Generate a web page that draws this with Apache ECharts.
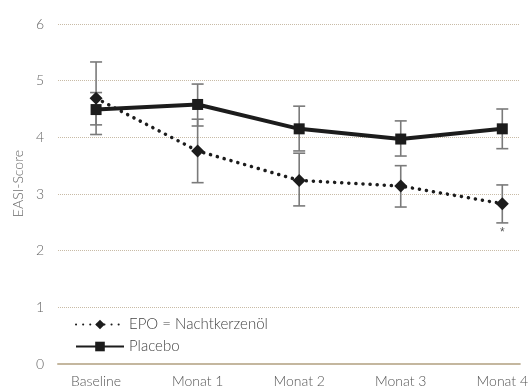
<!DOCTYPE html>
<html><head><meta charset="utf-8">
<script src="https://cdn.jsdelivr.net/npm/echarts@6/dist/echarts.min.js"></script>
<style>html,body{margin:0;padding:0;background:#fff}#c{width:531px;height:389px}</style>
</head><body><div id="c"></div>
<script>
const categories = ['Baseline','Monat 1','Monat 2','Monat 3','Monat 4'];
const epoMean = [4.69, 3.76, 3.24, 3.14, 2.83];
const epoLow  = [4.05, 3.20, 2.79, 2.77, 2.49];
const epoHigh = [5.33, 4.32, 3.72, 3.50, 3.16];
const placeboMean = [4.49, 4.58, 4.15, 3.97, 4.15];
const placeboLow  = [4.22, 4.20, 3.76, 3.67, 3.80];
const placeboHigh = [4.79, 4.94, 4.55, 4.29, 4.50];
const significance = ['', '', '', '', '*'];
const yTicks = [0,1,2,3,4,5,6];
const yTitle = 'EASI-Score';

const FONT = 'Lato';
const FW = 300;
const chart = echarts.init(document.getElementById('c'));

function errData(low, high, mark){
  return categories.map((c,i)=>[i, low[i], high[i], mark ? mark[i] : '']);
}
function errRender(params, api){
  const x = api.value(0);
  const lo = api.coord([x, api.value(1)]);
  const hi = api.coord([x, api.value(2)]);
  const w = 6;
  const st = {stroke:'#7a7a7a', lineWidth:1.6};
  const children = [
    {type:'line', shape:{x1:lo[0],y1:lo[1],x2:hi[0],y2:hi[1]}, style:st},
    {type:'line', shape:{x1:lo[0]-w,y1:lo[1],x2:lo[0]+w,y2:lo[1]}, style:st},
    {type:'line', shape:{x1:hi[0]-w,y1:hi[1],x2:hi[0]+w,y2:hi[1]}, style:st}
  ];
  const m = api.value(3);
  if (m) children.push({type:'text', style:{text:m, x:lo[0], y:lo[1]+4, align:'center', verticalAlign:'top', fill:'#555', font:'12px sans-serif'}});
  return {type:'group', children};
}

chart.setOption({
  animation:false,
  textStyle:{fontFamily:FONT, fontWeight:FW},
  grid:{left:58, right:0, top:24, bottom:25},
  graphic:[{type:'text', left:11, top:150, rotation:Math.PI/2,
    style:{text:yTitle, fill:'#666', font:FW+' 14px '+FONT}}],
  xAxis:{
    type:'value', min:-0.375, max:4.173,
    axisLine:{show:true, lineStyle:{color:'#c4b79f', width:2}},
    axisTick:{show:false},
    splitLine:{show:false},
    axisLabel:{customValues:[0,1,2,3,4], formatter:v=>categories[Math.round(v)], color:'#555', fontSize:14, fontWeight:FW, margin:10, fontFamily:FONT}
  },
  yAxis:{
    type:'value', min:0, max:6, interval:1,
    axisLine:{show:false}, axisTick:{show:false},
    axisLabel:{color:'#666', fontSize:14, fontWeight:FW, margin:14, fontFamily:FONT, formatter:v=>yTicks.includes(v)?String(v):''},
    splitLine:{show:true, lineStyle:{color:'#c8bba6', type:[1,1], width:1}}
  },
  legend:{
    orient:'vertical', left:70, top:312, itemWidth:48, itemHeight:12, itemGap:7,
    textStyle:{color:'#444', fontSize:15, fontWeight:FW, fontFamily:FONT},
    data:['EPO = Nachtkerzenöl','Placebo']
  },
  series:[
    {type:'custom', name:'errP', renderItem:errRender, data:errData(placeboLow, placeboHigh), z:1, silent:true},
    {type:'custom', name:'errE', renderItem:errRender, data:errData(epoLow, epoHigh, significance), z:1, silent:true},
    {type:'line', name:'Placebo', data:categories.map((c,i)=>[i, placeboMean[i]]),
      symbol:'rect', symbolSize:11, itemStyle:{color:'#1c1c1c'},
      lineStyle:{color:'#1c1c1c', width:4}, z:3},
    {type:'line', name:'EPO = Nachtkerzenöl', data:categories.map((c,i)=>[i, epoMean[i]]),
      symbol:'diamond', symbolSize:13, itemStyle:{color:'#1c1c1c'},
      lineStyle:{color:'#1c1c1c', width:3.5, type:[0.1,7], cap:'round'}, z:4}
  ]
});
</script></body></html>
